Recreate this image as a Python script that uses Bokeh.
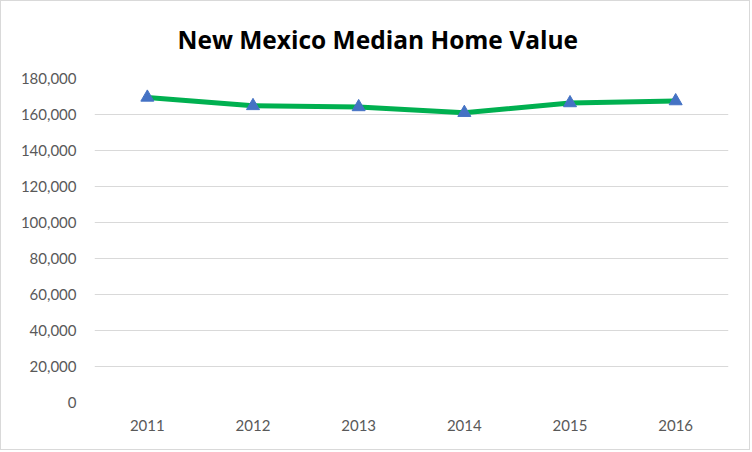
from bokeh.plotting import figure
from bokeh.models import Title, NumeralTickFormatter, FixedTicker, Range1d
from bokeh.embed import file_html
from bokeh.resources import INLINE

years = ["2011", "2012", "2013", "2014", "2015", "2016"]
values = [169500, 164800, 164200, 161000, 166400, 167500]
y_ticks = [0, 20000, 40000, 60000, 80000, 100000, 120000, 140000, 160000, 180000]
title_text = "New Mexico Median Home Value"

p = figure(width=750, height=450, x_range=years, y_range=Range1d(0, 180000),
           output_backend="svg", toolbar_location=None,
           min_border_left=93, min_border_right=23, min_border_top=77, min_border_bottom=49)
p.outline_line_color = None
p.border_fill_color = "white"
p.background_fill_color = "white"

p.line(years, values, line_color="#00b050", line_width=5)
p.scatter(years, values, marker="triangle", size=13, fill_color="#4472c4", line_color="#4472c4")

p.yaxis.ticker = FixedTicker(ticks=y_ticks)
p.yaxis.formatter = NumeralTickFormatter(format="0,0")
for ax in (p.xaxis[0], p.yaxis[0]):
    ax.axis_line_color = None
    ax.major_tick_line_color = None
    ax.minor_tick_line_color = None
    ax.major_label_text_color = "#595959"
    ax.major_label_text_font = "Lato"
    ax.major_label_text_font_size = "15px"
p.yaxis.major_label_standoff = 12
p.xaxis.major_label_standoff = 11
p.xgrid.grid_line_color = None
p.ygrid.grid_line_color = "#d9d9d9"
p.ygrid.grid_line_width = 1

p.add_layout(Title(text=title_text, align="left", offset=83, standoff=42,
                   vertical_align="top",
                   text_font="Open Sans", text_font_style="bold",
                   text_font_size="24.5px", text_color="#000000"), "above")

p.styles = {"border": "1px solid #d9d9d9"}

open("out.html", "w").write(file_html(p, INLINE))
